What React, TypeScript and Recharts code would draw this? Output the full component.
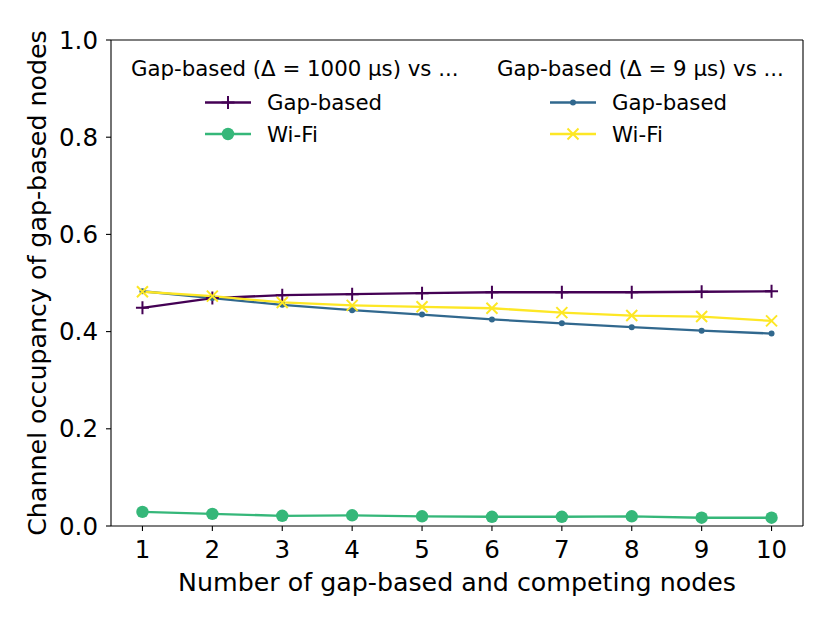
import React from 'react';
import { LineChart, Line, XAxis, YAxis, ReferenceLine, Label } from 'recharts';

// Channel occupancy vs. number of gap-based + competing nodes
const nodeCounts = [1, 2, 3, 4, 5, 6, 7, 8, 9, 10];
const gap1000Gap = [0.449, 0.469, 0.475, 0.477, 0.479, 0.481, 0.481, 0.481, 0.482, 0.483];
const gap1000Wifi = [0.029, 0.025, 0.021, 0.022, 0.02, 0.019, 0.019, 0.02, 0.017, 0.017];
const gap9Gap = [0.483, 0.469, 0.455, 0.444, 0.435, 0.425, 0.417, 0.409, 0.402, 0.396];
const gap9Wifi = [0.482, 0.473, 0.46, 0.454, 0.451, 0.448, 0.439, 0.433, 0.431, 0.422];
const xTicks = nodeCounts;
const yTicks = [0, 0.2, 0.4, 0.6, 0.8, 1.0];

const legendTitles = ['Gap-based (Δ = 1000 µs) vs ...', 'Gap-based (Δ = 9 µs) vs ...'];

const FONT = '"DejaVu Sans", sans-serif';
const PURPLE = '#440154';
const GREEN = '#35b779';
const BLUE = '#31688e';
const YELLOW = '#fde725';

type Marker = 'plus' | 'bigDot' | 'smallDot' | 'cross';

const series: { key: string; name: string; color: string; marker: Marker; values: number[] }[] = [
  { key: 'g1000gap', name: 'Gap-based', color: PURPLE, marker: 'plus', values: gap1000Gap },
  { key: 'g1000wifi', name: 'Wi-Fi', color: GREEN, marker: 'bigDot', values: gap1000Wifi },
  { key: 'g9gap', name: 'Gap-based', color: BLUE, marker: 'smallDot', values: gap9Gap },
  { key: 'g9wifi', name: 'Wi-Fi', color: YELLOW, marker: 'cross', values: gap9Wifi },
];

const chartData = nodeCounts.map((n, i) => {
  const row: Record<string, number> = { n };
  series.forEach((s) => {
    row[s.key] = s.values[i];
  });
  return row;
});

function MarkerShape({ type, cx, cy, color }: { type: Marker; cx: number; cy: number; color: string }) {
  if (type === 'plus') {
    return (
      <path
        d={`M${cx - 6.5},${cy}H${cx + 6.5}M${cx},${cy - 6.5}V${cy + 6.5}`}
        stroke={color}
        strokeWidth={2}
        fill="none"
      />
    );
  }
  if (type === 'cross') {
    return (
      <path
        d={`M${cx - 5.5},${cy - 5.5}L${cx + 5.5},${cy + 5.5}M${cx - 5.5},${cy + 5.5}L${cx + 5.5},${cy - 5.5}`}
        stroke={color}
        strokeWidth={2}
        fill="none"
      />
    );
  }
  const r = type === 'bigDot' ? 6.2 : 3;
  return <circle cx={cx} cy={cy} r={r} fill={color} />;
}

const makeDot = (type: Marker, color: string) => (props: any) => {
  const { cx, cy, index } = props;
  if (cx == null || cy == null) return <g key={`m-${index}`} />;
  return (
    <g key={`m-${type}-${index}`}>
      <MarkerShape type={type} cx={cx} cy={cy} color={color} />
    </g>
  );
};

// Legend overlay, two titled columns
function LegendOverlay() {
  const cols = [
    { titleX: 131, lineX: 205, items: series.slice(0, 2) },
    { titleX: 497, lineX: 550, items: series.slice(2, 4) },
  ];
  const rowY = [102.5, 134];
  return (
    <svg
      width={830}
      height={623}
      style={{ position: 'absolute', left: 0, top: 0, pointerEvents: 'none' }}
    >
      {cols.map((c, ci) => (
        <g key={ci} fontFamily={FONT} fontSize={21.3} fill="#000">
          <text x={c.titleX} y={76}>
            {legendTitles[ci]}
          </text>
          {c.items.map((s, i) => (
            <g key={s.key}>
              <line x1={c.lineX} x2={c.lineX + 46} y1={rowY[i]} y2={rowY[i]} stroke={s.color} strokeWidth={2.5} />
              <MarkerShape type={s.marker} cx={c.lineX + 23} cy={rowY[i]} color={s.color} />
              <text x={c.lineX + 62} y={rowY[i] + 7.5}>
                {s.name}
              </text>
            </g>
          ))}
        </g>
      ))}
    </svg>
  );
}

const tickStyle = { fontSize: 24.5, fill: '#000', fontFamily: FONT };
const labelStyle = { fontSize: 25.3, fill: '#000', fontFamily: FONT };

export default function App() {
  return (
    <div style={{ position: 'absolute', left: 0, top: 0, width: 830, height: 623, background: '#fff' }}>
      <LineChart
        width={830}
        height={623}
        data={chartData}
        margin={{ top: 40, right: 27, left: 0, bottom: 0 }}
        style={{ fontFamily: FONT }}
      >
        <XAxis
          dataKey="n"
          type="number"
          domain={[0.55, 10.45]}
          ticks={xTicks}
          allowDataOverflow
          height={97}
          tick={tickStyle}
          tickSize={5}
          tickMargin={10}
          axisLine={{ stroke: '#000', strokeWidth: 1.1 }}
          tickLine={{ stroke: '#000', strokeWidth: 1.1 }}
        >
          <Label
            value="Number of gap-based and competing nodes"
            position="insideBottom"
            offset={32}
            style={labelStyle}
          />
        </XAxis>
        <YAxis
          type="number"
          domain={[0, 1]}
          ticks={yTicks}
          width={111}
          tick={tickStyle}
          tickFormatter={(v: number) => v.toFixed(1)}
          tickSize={5}
          tickMargin={8}
          axisLine={{ stroke: '#000', strokeWidth: 1.1 }}
          tickLine={{ stroke: '#000', strokeWidth: 1.1 }}
        >
          <Label
            value="Channel occupancy of gap-based nodes"
            angle={-90}
            position="insideLeft"
            offset={37}
            style={{ ...labelStyle, textAnchor: 'middle' }}
          />
        </YAxis>
        {/* top and right spines */}
        <ReferenceLine y={1} stroke="#000" strokeWidth={1.1} />
        <ReferenceLine x={10.45} stroke="#000" strokeWidth={1.1} />
        {series.map((s) => (
          <Line
            key={s.key}
            dataKey={s.key}
            name={s.name}
            type="linear"
            stroke={s.color}
            strokeWidth={2.3}
            dot={makeDot(s.marker, s.color)}
            activeDot={false}
            isAnimationActive={false}
          />
        ))}
      </LineChart>
      <LegendOverlay />
    </div>
  );
}
